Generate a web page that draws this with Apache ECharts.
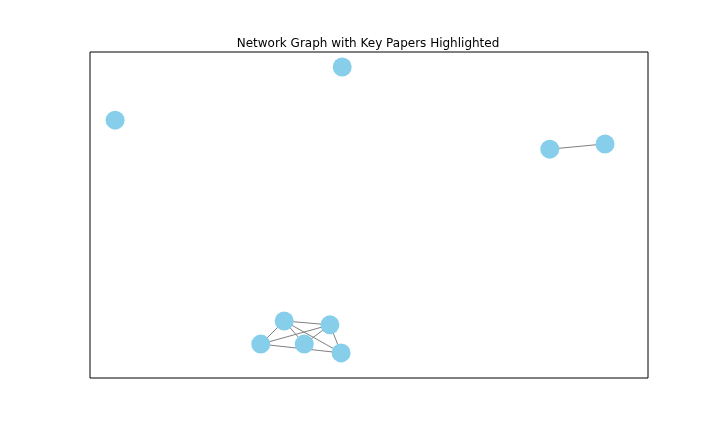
<!DOCTYPE html>
<html>
<head>
<meta charset="utf-8">
<script src="https://cdn.jsdelivr.net/npm/echarts@6/dist/echarts.min.js"></script>
<style>
  html, body { margin: 0; padding: 0; background: #fff; }
  #chart { width: 720px; height: 432px; }
</style>
</head>
<body>
<div id="chart"></div>
<script>
// node positions in layout units (0..1 across the frame)
const nodeNames = ['P0', 'P1', 'P2', 'P3', 'P4', 'P5', 'P6', 'P7', 'P8'];
const nodeX = [0.452, 0.045, 0.824, 0.923, 0.348, 0.430, 0.306, 0.384, 0.450];
const nodeY = [0.954, 0.791, 0.702, 0.718, 0.175, 0.163, 0.104, 0.104, 0.077];
const edgeSource = ['P2', 'P4', 'P4', 'P4', 'P4', 'P5', 'P5', 'P5', 'P6'];
const edgeTarget = ['P3', 'P5', 'P6', 'P7', 'P8', 'P6', 'P7', 'P8', 'P8'];

const nodes = nodeNames.map((n, i) => ({ name: n, value: [nodeX[i], nodeY[i]] }));
const links = edgeSource.map((s, i) => ({ source: s, target: edgeTarget[i] }));

const chart = echarts.init(document.getElementById('chart'));
chart.setOption({
  animation: false,
  title: {
    text: 'Network Graph with Key Papers Highlighted',
    left: 363,
    textAlign: 'center',
    top: 33,
    textStyle: { fontFamily: 'DejaVu Sans', fontWeight: 'normal', fontSize: 12, color: '#000' }
  },
  grid: {
    left: 90, right: 72, top: 52, bottom: 54,
    show: true, borderColor: '#000', borderWidth: 1, backgroundColor: '#fff'
  },
  xAxis: { type: 'value', min: 0, max: 1, show: false },
  yAxis: { type: 'value', min: 0, max: 1, show: false },
  series: [{
    type: 'graph',
    layout: 'none',
    coordinateSystem: 'cartesian2d',
    symbol: 'circle',
    symbolSize: 19,
    itemStyle: { color: '#87CEEB' },
    lineStyle: { color: '#808080', width: 1, opacity: 1 },
    label: { show: false },
    data: nodes,
    links: links
  }]
});
</script>
</body>
</html>
